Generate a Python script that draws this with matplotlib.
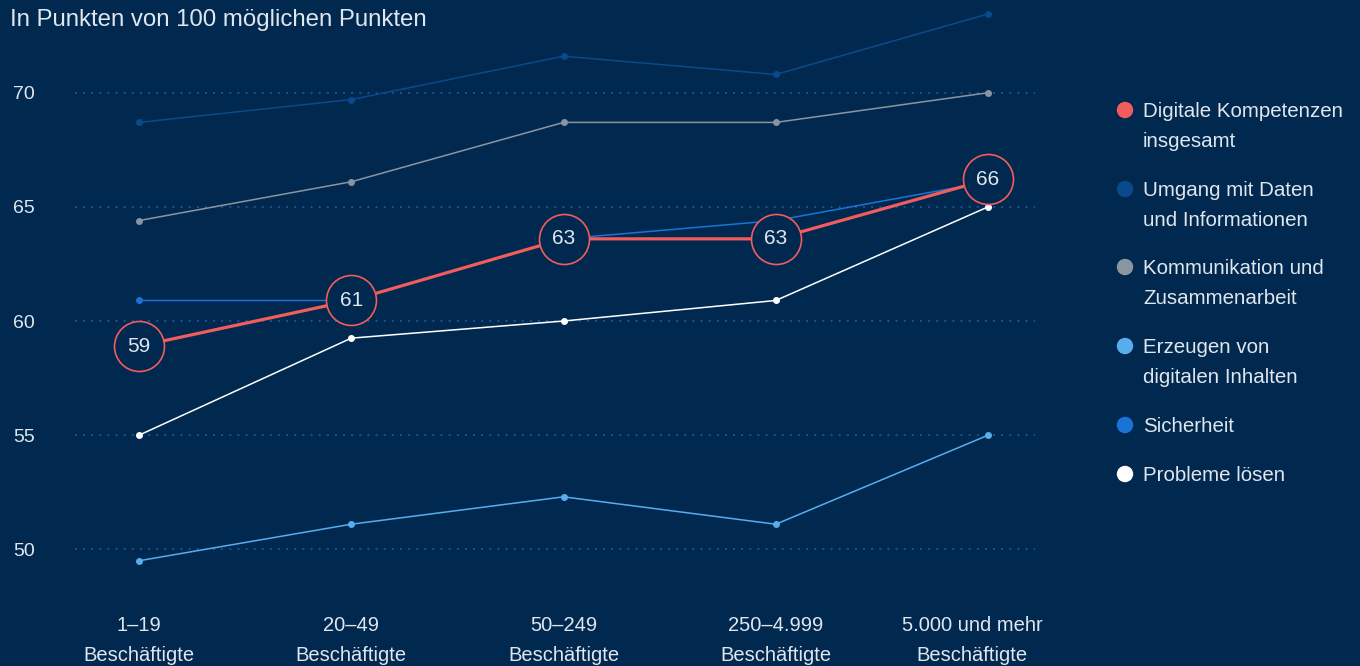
import matplotlib
matplotlib.use("Agg")
import matplotlib.pyplot as plt
import matplotlib.transforms as mtransforms

plt.rcParams['font.family'] = ['Liberation Sans', 'DejaVu Sans']

categories = ["1–19\nBeschäftigte", "20–49\nBeschäftigte", "50–249\nBeschäftigte",
              "250–4.999\nBeschäftigte", "5.000 und mehr\nBeschäftigte"]
digitale = [58.9, 60.9, 63.6, 63.6, 66.2]
digitale_labels = ["59", "61", "63", "63", "66"]
umgang = [68.7, 69.7, 71.6, 70.8, 73.45]
kommunikation = [64.4, 66.1, 68.7, 68.7, 70.0]
erzeugen = [49.5, 51.1, 52.3, 51.1, 55.0]
sicherheit = [60.9, 60.9, 63.6, 64.4, 66.1]
probleme = [55.0, 59.25, 60.0, 60.9, 65.0]
yticks = [50, 55, 60, 65, 70]

BG = '#01294f'
RED = '#f25c5c'
C_UMG = '#0a4a8c'
C_KOM = '#8b95a1'
C_ERZ = '#58adef'
C_SIC = '#1a74d8'
C_PRO = '#ffffff'
TXT = '#dfe6ee'
GRID = '#1d5a98'

W, H = 1360, 666
fig = plt.figure(figsize=(W/100, H/100), dpi=100, facecolor=BG)
ax_top, ax_bot = 1.4, 595.0
ax = fig.add_axes([75/W, (H-ax_bot)/H, 960/W, (ax_bot-ax_top)/H])
ax.set_facecolor(BG)
ax.set_xlim(-0.3015, 4.221)
ax.set_ylim(48, 74)
for s in ax.spines.values():
    s.set_visible(False)

for yv in yticks:
    ax.axhline(yv, color=GRID, lw=1.3, ls=(0, (1, 3.5)), zorder=1)

x = list(range(len(categories)))
for vals, col in [(umgang, C_UMG), (kommunikation, C_KOM), (erzeugen, C_ERZ),
                  (sicherheit, C_SIC), (probleme, C_PRO)]:
    ax.plot(x, vals, color=col, lw=1.1, marker='o', ms=4, zorder=3)

ax.plot(x, digitale, color=RED, lw=2.3, zorder=4)
ax.plot(x, digitale, ls='none', marker='o', ms=36, mfc=BG, mec=RED, mew=1.2, zorder=5)
for xi, yi, lab in zip(x, digitale, digitale_labels):
    ax.text(xi, yi, lab, ha='center', va='center', color=TXT, fontsize=15, zorder=6)

ax.set_yticks(yticks)
ax.set_yticklabels([str(v) for v in yticks])
ax.set_xticks(x)
ax.set_xticklabels(categories, linespacing=1.75)
ax.tick_params(axis='y', length=0, pad=28.8, labelsize=14, labelcolor=TXT)
ax.tick_params(axis='x', length=0, pad=15, labelsize=14.5, labelcolor=TXT)
last = ax.get_xticklabels()[-1]
last.set_transform(last.get_transform() +
                   mtransforms.ScaledTranslation(-0.16, 0, fig.dpi_scale_trans))

fig.text(10/W, 1 - 20/H, "In Punkten von 100 möglichen Punkten", color=TXT,
         fontsize=17.3, ha='left', va='center')

legend_items = [
    ("Digitale Kompetenzen\ninsgesamt", RED, 110),
    ("Umgang mit Daten\nund Informationen", C_UMG, 189),
    ("Kommunikation und\nZusammenarbeit", C_KOM, 267),
    ("Erzeugen von\ndigitalen Inhalten", C_ERZ, 346),
    ("Sicherheit", C_SIC, 425),
    ("Probleme lösen", C_PRO, 474),
]
for text, col, ypx in legend_items:
    fig.patches.append(matplotlib.patches.Ellipse((1125/W, 1 - ypx/H), 15/W, 15/H,
                                                  transform=fig.transFigure, color=col))
    fig.text(1143/W, 1 - (ypx - 8)/H, text, color=TXT, fontsize=14.8,
             ha='left', va='top', linespacing=1.72)

fig.savefig("out.png", dpi=100, facecolor=BG)
